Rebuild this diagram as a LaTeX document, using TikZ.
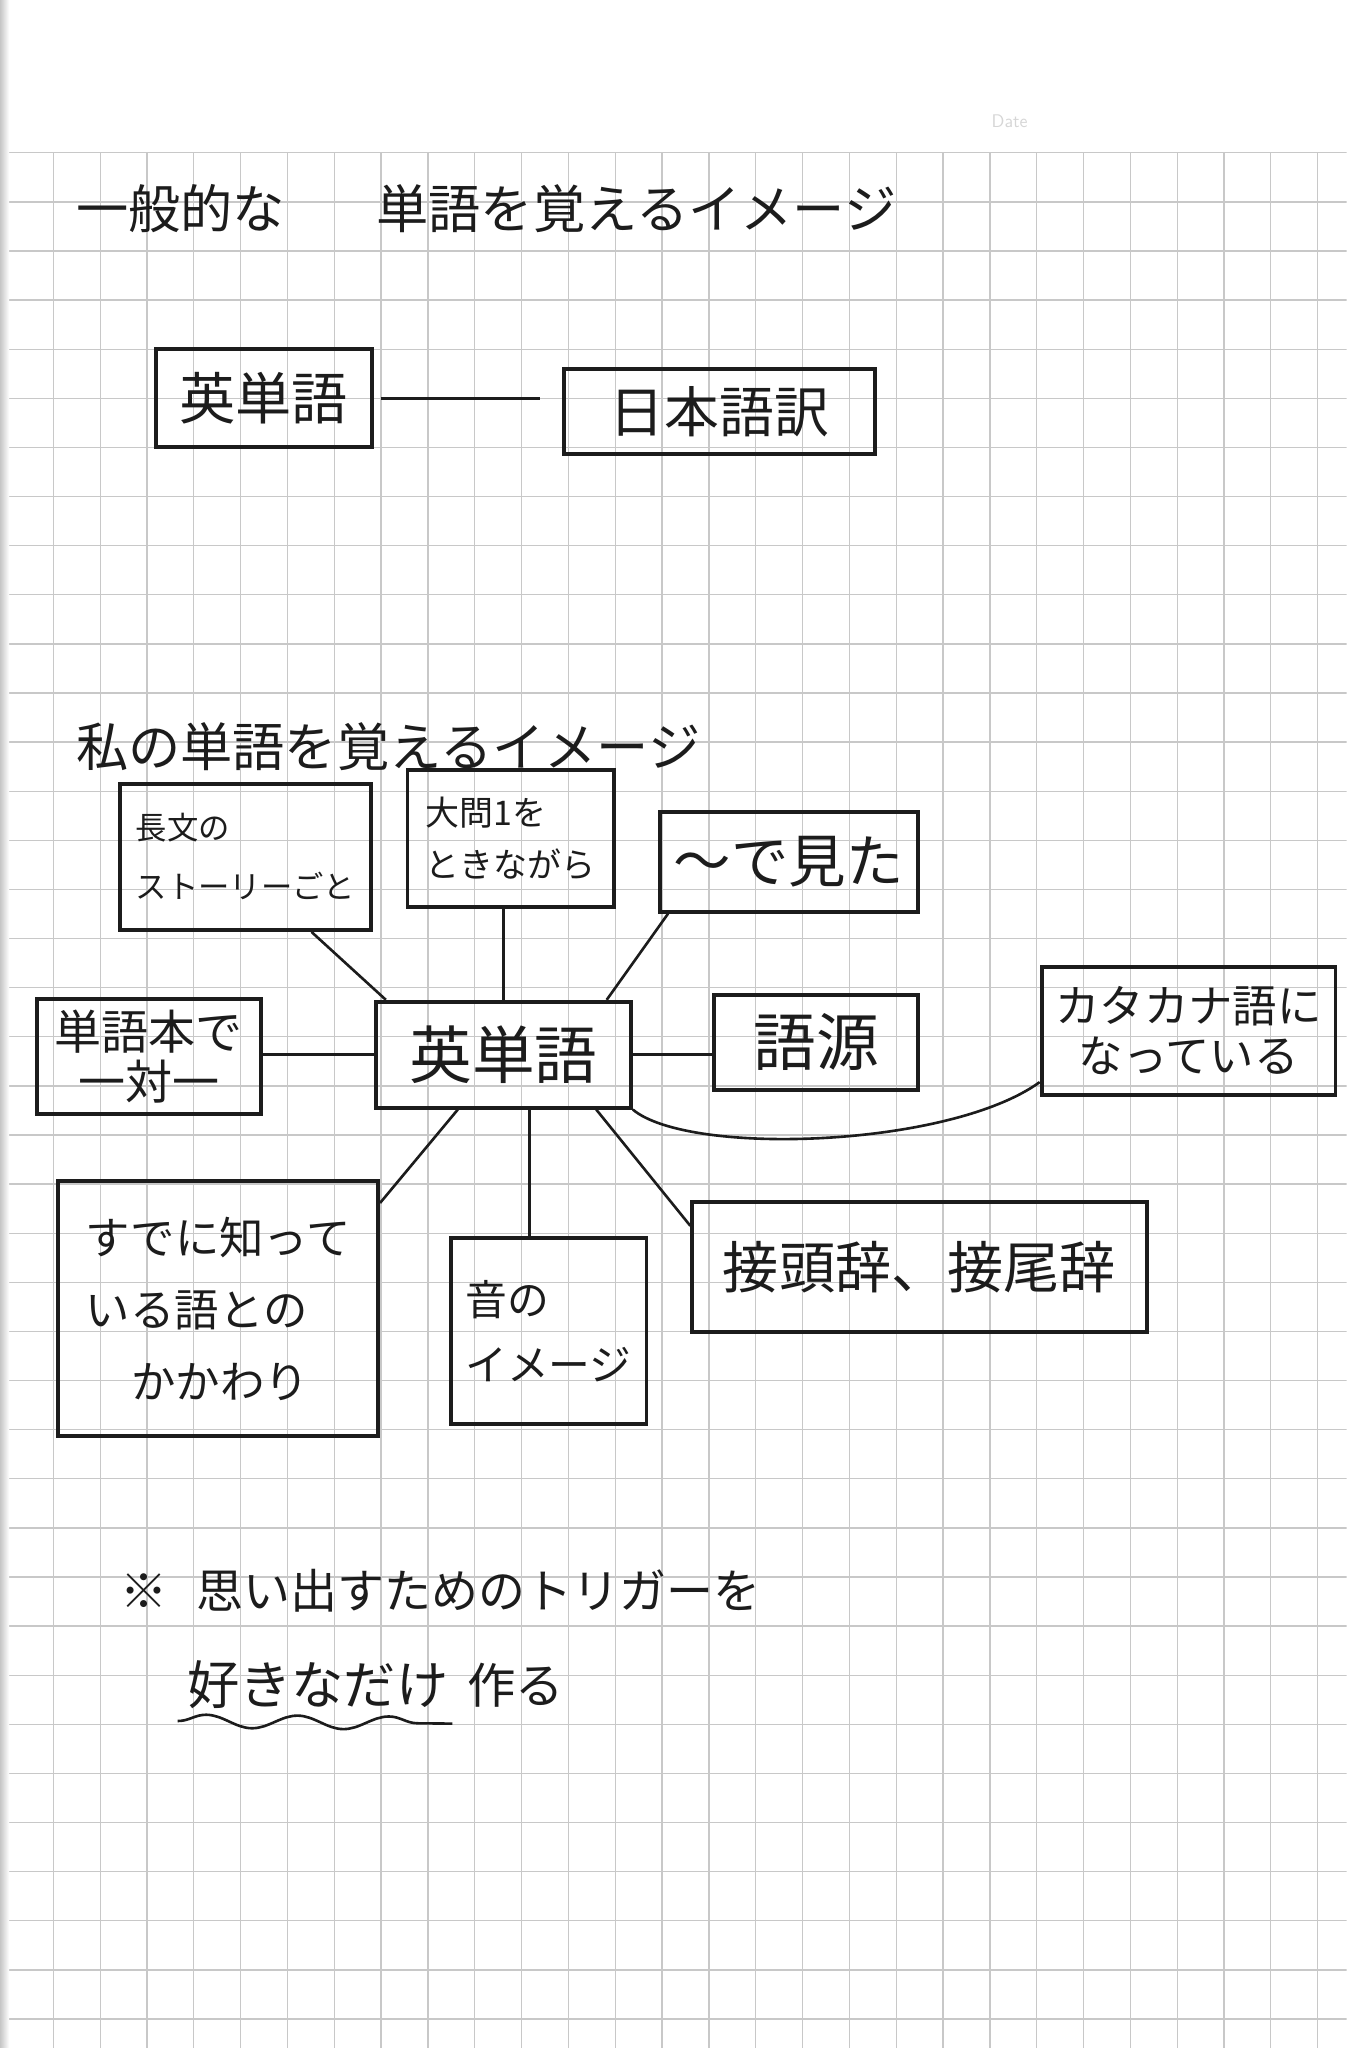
\documentclass[tikz,border=0pt]{standalone}
\usepackage{fontspec}
\setmainfont{Noto Sans CJK JP}
\usepackage{tikz}
\usetikzlibrary{positioning, decorations.pathmorphing}
\usepackage{xcolor}
\definecolor{inkblack}{RGB}{28,28,28}
\definecolor{gridgray}{RGB}{200,200,200}
\definecolor{dategray}{RGB}{214,214,214}
\newcommand{\jpsize}[2]{\fontsize{#1}{#2}\selectfont}
\tikzset{
  notebox/.style={rectangle, draw=inkblack, line width=3pt, align=center, inner sep=0pt, text=inkblack},
  leftbox/.style={notebox, align=left},
  link/.style={draw=inkblack, line width=2pt},
  gridline/.style={draw=gridgray, line width=1pt},
  headline/.style={anchor=west, inner sep=0pt, text=inkblack, font=\jpsize{40}{48}},
  wavyline/.style={draw=inkblack, line width=2pt, decorate, decoration={snake, amplitude=5pt, segment length=70pt}}
}

\begin{document}
\begin{tikzpicture}[x=1pt, y=-1pt]
  \useasboundingbox (0,0) rectangle (1031,1568);
  \fill[white] (0,0) rectangle (1031,1568);

  % notebook grid
  \begin{scope}
    \clip (5,117) rectangle (1031,1568);
    \foreach \i in {0,...,28}
      \draw[gridline] ({5+35.85*\i},117) -- ++(0,1460);
    \foreach \j in {0,...,39}
      \draw[gridline] (5,{117+37.6*\j}) -- ++(1030,0);
  \end{scope}
  \shade[left color=gray!45, right color=white] (0,0) rectangle (7,1568);
  \node[text=dategray, font=\sffamily\jpsize{14}{16}] (date) at (773,93) {Date};

  % general image
  \node[headline] (title1) at (58,160) {一般的な\hspace{70pt}単語を覚えるイメージ};
  \node[notebox, minimum width=165pt, minimum height=75pt, font=\jpsize{43}{50}] (eng) at (202,305) {英単語};
  \node[notebox, minimum width=238pt, minimum height=65pt, font=\jpsize{42}{50}] (jpn) at (551,315) {日本語訳};
  \draw[link] ([xshift=6pt]eng.east) -- ([xshift=-17pt]eng.east -| jpn.west);

  % my image
  \node[headline] (title2) at (58,572) {私の単語を覚えるイメージ};
  \node[notebox, minimum width=195pt, minimum height=81pt, font=\jpsize{48}{56}] (hub) at (385.5,807.5) {英単語};

  \node[leftbox, minimum width=192pt, minimum height=112pt, font=\jpsize{24}{45}] (long) at (188,656) {長文の\\ストーリーごと};
  \node[leftbox, minimum width=158pt, minimum height=105pt, font=\jpsize{26}{40}] (q1) at (391,642) {大問1を\\ときながら};
  \node[notebox, minimum width=198pt, minimum height=76pt, font=\jpsize{44}{50}] (seen) at (604,660) {〜で見た};
  \node[notebox, minimum width=172pt, minimum height=88pt, font=\jpsize{36}{38}] (book) at (114,809) {単語本で\\一対一};
  \node[notebox, minimum width=156pt, minimum height=73pt, font=\jpsize{48}{54}] (root) at (625,798) {語源};
  \node[notebox, minimum width=225pt, minimum height=98pt, font=\jpsize{34}{38}] (kata) at (910,789) {カタカナ語に\\なっている};
  \node[leftbox, minimum width=245pt, minimum height=195pt, font=\jpsize{34}{55}] (known) at (167,1002) {すでに知って\\いる語との\\\hspace{35pt}かかわり};
  \node[leftbox, minimum width=150pt, minimum height=142pt, font=\jpsize{32}{50}] (sound) at (420,1019) {音の\\イメージ};
  \node[notebox, minimum width=348pt, minimum height=100pt, font=\jpsize{43}{50}] (affix) at (704,970) {接頭辞、接尾辞};

  % links from the hub
  \draw[link] (hub.155) -- ([xshift=-47pt]long.south east);
  \draw[link] (hub.north) -- (hub.north |- q1.south);
  \draw[link] (hub.28) -- ([xshift=8pt]seen.south west);
  \draw[link] (hub.west) -- (hub.west -| book.east);
  \draw[link] (hub.east) -- (hub.east -| root.west);
  \draw[link] (hub.south east) .. controls +(43,36) and +(-69,50) .. ([yshift=11pt]kata.south west);
  \draw[link] ([xshift=64pt]hub.south west) -- ([yshift=-18pt]known.north east);
  \draw[link] ([xshift=20pt]hub.south) -- ([xshift=20pt]hub.south |- sound.north);
  \draw[link] ([xshift=-28pt]hub.south east) -- ([yshift=-20pt]affix.north west);

  % note
  \node[headline, font=\jpsize{36}{44}] (note) at (92,1218) {※\hspace{22pt}思い出すためのトリガーを};
  \node[headline] (pick) at (143,1290) {好きなだけ};
  \node[headline, right=14pt of pick, font=\jpsize{37}{44}] (make) {作る};
  \draw[wavyline] ([shift={(-7pt,-9pt)}]pick.south west) -- ([shift={(3pt,-11pt)}]pick.south east);
\end{tikzpicture}
\end{document}
